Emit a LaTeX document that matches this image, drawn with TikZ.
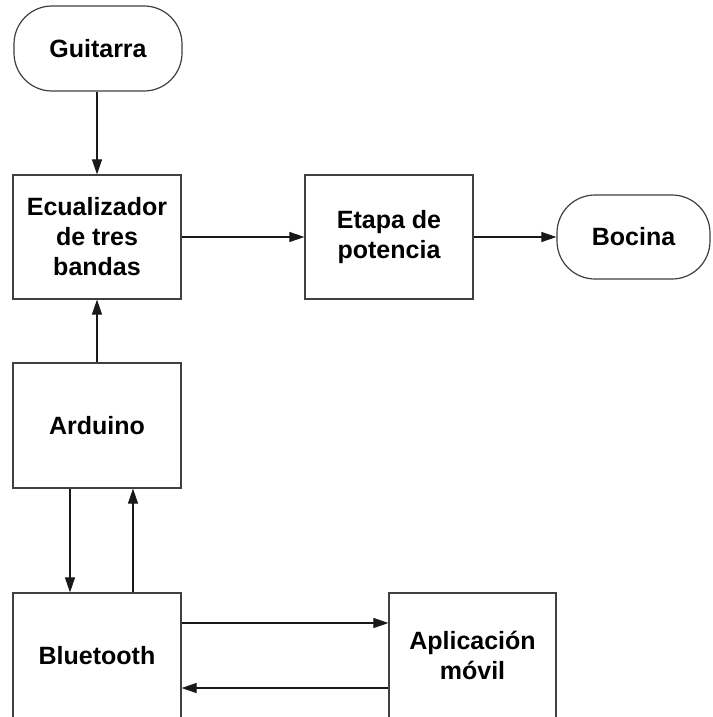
\documentclass[tikz,border=0pt]{standalone}
\usepackage{fontspec}
\setmainfont{Liberation Sans}
\usetikzlibrary{arrows.meta}
\begin{document}
\begin{tikzpicture}[x=1pt,y=-1pt,
  block/.style={draw=black!75, line width=1.2pt, fill=white, inner sep=0pt,
    minimum width=168pt, minimum height=124pt, align=center,
    font=\fontsize{25}{30}\selectfont\bfseries},
  terminal/.style={block, rounded corners=38pt, minimum height=85pt},
  arr/.style={draw=black!90, line width=1.1pt, -{Triangle[length=15pt,width=10pt]}}
]
\useasboundingbox (0,0) rectangle (712,717);
\fill[white] (0,0) rectangle (712,717);

% blocks
\node[terminal] (guit) at (98,48.5) {Guitarra};
\node[block] (ecu) at (97,237) {Ecualizador\\de tres\\bandas};
\node[block] (etapa) at (389,237) {Etapa de\\potencia};
\node[terminal, minimum width=153pt, minimum height=84pt] (bocina) at (633.5,237) {Bocina};
\node[block, minimum height=125pt] (ard) at (97,425.5) {Arduino};
\node[block, minimum height=125pt] (bt) at (97,655.5) {Bluetooth};
\node[block, minimum width=167pt, minimum height=125pt] (app) at (472.5,655.5) {Aplicación\\móvil};

% signal path
\draw[arr] (guit.south -| ecu.north) -- (ecu.north);
\draw[arr] (ecu.east) -- (etapa.west);
\draw[arr] (etapa.east) -- (bocina.west);
\draw[arr] (ard.north) -- (ecu.south);

% Arduino <-> Bluetooth
\draw[arr] ([xshift=-27pt]ard.south) -- ([xshift=-27pt]bt.north);
\draw[arr] ([xshift=36pt]bt.north) -- ([xshift=36pt]ard.south);

% Bluetooth <-> app
\draw[arr] ([yshift=32.5pt]bt.east) -- ([yshift=32.5pt]bt.east -| app.west);
\draw[arr] ([yshift=-32.5pt]app.west) -- ([yshift=-32.5pt]app.west -| bt.east);
\end{tikzpicture}
\end{document}
